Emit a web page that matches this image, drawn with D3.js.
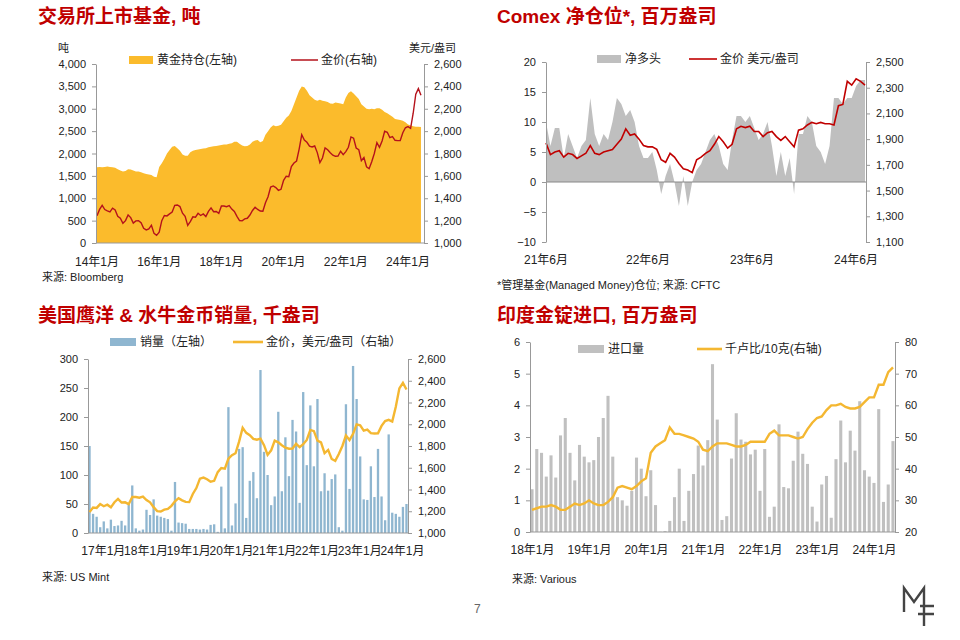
<!DOCTYPE html>
<html><head><meta charset="utf-8">
<script src="https://cdn.jsdelivr.net/npm/d3@7"></script>
<style>
body{margin:0;background:#fff;}
text{font-family:"Liberation Sans","Noto Sans CJK SC",sans-serif;fill:#222;}
.axis path,.axis line{stroke:#999;}
.axis text{font-size:11px;fill:#222;font-family:"Liberation Sans","Noto Sans CJK SC",sans-serif;}
</style></head><body>
<svg id="c" width="960" height="640"></svg>
<script>
// --- data ---
// panel 1: ETF holdings (t) and gold price (USD/oz), monthly 2014-01 .. 2024-06
var etfHoldings = [1690,1700,1690,1700,1710,1700,1690,1680,1650,1620,1600,1610,
  1650,1640,1620,1600,1600,1580,1560,1540,1530,1520,1480,1470,
  1700,1780,1880,2000,2080,2150,2170,2120,2060,1980,1950,1950,
  2030,2060,2080,2090,2100,2110,2120,2140,2150,2160,2170,2180,
  2190,2200,2200,2220,2230,2260,2260,2220,2180,2160,2170,2200,
  2260,2290,2300,2250,2280,2420,2500,2580,2630,2610,2620,2640,
  2720,2800,2850,2950,3100,3250,3400,3500,3480,3400,3300,3250,
  3200,3180,3200,3180,3170,3150,3120,3110,3140,3130,3120,3100,
  3250,3350,3390,3340,3280,3220,3100,3050,3000,2990,3000,2990,
  3010,3010,2980,2930,2900,2860,2820,2770,2760,2750,2730,2700,
  2650,2630,2610,2600,2600,2590];
var goldMonthly14 = [1244,1300,1336,1299,1288,1279,1311,1296,1239,1222,1176,1200,
  1251,1227,1178,1198,1199,1181,1131,1117,1125,1159,1086,1068,
  1097,1200,1246,1242,1260,1276,1337,1340,1326,1266,1238,1157,
  1192,1234,1231,1266,1246,1260,1236,1283,1314,1280,1282,1265,
  1331,1331,1325,1334,1303,1282,1238,1201,1198,1215,1221,1250,
  1291,1320,1300,1286,1284,1359,1413,1500,1510,1495,1471,1480,
  1560,1597,1592,1683,1715,1733,1840,1968,1921,1900,1866,1858,
  1867,1808,1718,1760,1850,1834,1807,1785,1775,1777,1820,1790,
  1817,1856,1948,1937,1849,1834,1735,1764,1681,1664,1726,1800,
  1897,1855,1912,1999,1990,1942,1951,1918,1915,1916,1985,2030,
  2040,2025,2160,2330,2380,2320];
var p1Ticks = ["14年1月","16年1月","18年1月","20年1月","22年1月","24年1月"];

// panel 2: COMEX managed money net long (Moz) and gold price, semi-monthly 2021-06 .. 2024-06
var netLong = [10,6,9,9,4,8,6,4,6,7,14,8,6,8,7,10,14,13,11,12,10,6,4,4,5,2,-2,1,3,0,-4,1,-4,0,2,3,5,7,
  8,6,3,2,7,11,11,10,11,9,7,8,10,6,1,5,1,4,-2,8,8,11,10,6,5,3,6,14,14,13,14,14,16,17,17];
var comexGold = [1870,1780,1800,1810,1760,1790,1780,1750,1770,1790,1850,1790,1780,1800,1810,1820,1860,1900,1980,1930,
  1940,1900,1850,1840,1840,1820,1740,1720,1790,1760,1710,1670,1660,1640,1740,1760,1790,1810,
  1860,1920,1880,1830,1860,1980,2000,1990,2000,1960,1960,1920,1950,1960,1920,1890,1920,1880,1840,1970,
  1980,2010,2030,2020,2030,2020,2020,2010,2160,2170,2350,2320,2370,2350,2320];
var p2Ticks = ["21年6月","22年6月","23年6月","24年6月"];

// panel 3: US Mint eagle & buffalo sales (koz), monthly 2017-01 .. 2024-06
var mintSales = [150,33,28,10,20,8,23,12,13,21,13,50,
  82,8,4,6,40,31,58,30,28,26,24,4,
  88,18,17,16,7,7,7,6,7,6,14,15,
  2,80,8,217,13,51,145,148,26,90,105,60,
  281,140,100,48,63,209,72,165,98,195,175,52,
  243,117,220,115,231,72,103,73,93,101,10,4,
  222,76,288,231,132,58,57,115,62,145,63,22,
  170,35,33,28,45,50];
var mintGold = goldMonthly14.slice(36);
var p3Ticks = ["17年1月","18年1月","19年1月","20年1月","21年1月","22年1月","23年1月","24年1月"];

// panel 4: India gold imports (Moz) and INR per 10g (thousand), monthly 2018-01 .. 2024-05
var indiaImports = [1.35,2.62,2.5,1.75,2.42,1.72,3.05,3.6,2.5,1.63,2.75,2.38,
  2.2,2.27,3.0,3.6,4.3,2.38,1.1,1.0,0.83,1.3,2.35,2.0,
  1.13,1.95,0.85,0.01,0.03,0.35,1.1,2.0,0.35,1.3,1.83,2.73,
  2.1,2.9,5.3,3.55,0.38,0.5,2.32,3.75,2.92,2.85,2.45,2.6,
  1.3,2.62,0.48,0.8,3.4,1.42,1.38,2.25,3.17,2.47,2.15,0.8,
  0.33,1.5,1.77,0.45,2.3,3.52,2.2,3.2,2.57,4.13,1.95,1.75,
  1.55,3.88,0.95,1.5,2.87];
var inrGold = [27,27.5,28,28,28.5,28,27,27,28,29,28.5,29,
  30,29,28.5,28.5,29.5,31,34,34.5,34,33.5,34.5,36,
  37,45,47,48,49,53,51,51,50.5,50,49.5,48.5,
  46,45.5,47,48,48,48,47.5,47,47,47.5,48.5,48.5,
  48.5,48.5,51,52,50.5,50.5,50.5,50,49.5,50,52.5,54.5,
  56,56.5,58.5,60,60,60.5,59.5,59,59,59.5,61,62.5,
  62.5,66.5,66.5,70.5,72];
var p4Ticks = ["18年1月","19年1月","20年1月","21年1月","22年1月","23年1月","24年1月"];

var svg = d3.select("#c");
var fmt = d3.format(",");
var RED = "#c00000";

function title(x, y, t) {
  svg.append("text").attr("x", x).attr("y", y).text(t)
    .style("font-size", "19px").style("font-weight", "bold").style("fill", RED);
}
function note(x, y, t) {
  svg.append("text").attr("x", x).attr("y", y).text(t).style("font-size", "11px");
}
function yAxis(scale, x, right, ticks, f) {
  var ax = (right ? d3.axisRight(scale) : d3.axisLeft(scale)).tickValues(ticks).tickFormat(f || fmt).tickSize(4).tickSizeOuter(0);
  var g = svg.append("g").attr("class", "axis").attr("transform", "translate(" + x + ",0)").call(ax);
  g.selectAll("text").attr("dx", right ? 3 : -3);
}
function xLabels(labels, xs, y) {
  labels.forEach(function(l, i) {
    svg.append("text").attr("x", xs[i]).attr("y", y).attr("text-anchor", "middle").text(l).style("font-size", "12px");
  });
}
function swatchRect(x, y, w, col, t) {
  svg.append("rect").attr("x", x).attr("y", y - 4).attr("width", w).attr("height", 8).attr("fill", col);
  svg.append("text").attr("x", x + w + 4).attr("y", y + 4).text(t).style("font-size", "12px");
}
function swatchLine(x, y, w, col, sw, t) {
  svg.append("line").attr("x1", x).attr("x2", x + w).attr("y1", y).attr("y2", y).attr("stroke", col).attr("stroke-width", sw);
  svg.append("text").attr("x", x + w + 3).attr("y", y + 4).text(t).style("font-size", "12px");
}

// ---------- panel 1 ----------
title(38, 23, "交易所上市基金, 吨");
var x1 = d3.scaleLinear().domain([0, 120]).range([97, 408]);
var y1 = d3.scaleLinear().domain([0, 4000]).range([243, 64]);
var y1r = d3.scaleLinear().domain([1000, 2600]).range([243, 64]);
svg.append("path").datum(etfHoldings).attr("fill", "#fbbb2c")
  .attr("d", d3.area().x(function(d, i) { return x1(i); }).y0(y1(0)).y1(function(d) { return y1(d); }));
svg.append("path").datum(goldMonthly14).attr("fill", "none").attr("stroke", "#b5121b").attr("stroke-width", 1.4)
  .attr("d", d3.line().x(function(d, i) { return x1(i); }).y(function(d) { return y1r(d); }));
yAxis(y1, 96, false, d3.range(0, 4001, 500));
yAxis(y1r, 424, true, d3.range(1000, 2601, 200));
svg.append("line").attr("x1", 96).attr("x2", 424).attr("y1", 243).attr("y2", 243).attr("stroke", "#999");
xLabels(p1Ticks, [0, 24, 48, 72, 96, 120].map(x1), 266);
svg.append("text").attr("x", 58).attr("y", 52).text("吨").style("font-size", "11px");
svg.append("text").attr("x", 409).attr("y", 52).text("美元/盎司").style("font-size", "11px");
swatchRect(129, 60, 24, "#fbbb2c", "黄金持仓(左轴)");
swatchLine(291, 60, 27, "#b5121b", 1.5, "金价(右轴)");
note(42, 281, "来源: Bloomberg");

// ---------- panel 2 ----------
title(497, 23, "Comex 净仓位*, 百万盎司");
var x2 = d3.scaleLinear().domain([0, 72]).range([546, 865]);
var y2 = d3.scaleLinear().domain([-10, 20]).range([242, 62]);
var y2r = d3.scaleLinear().domain([1100, 2500]).range([242, 62]);
svg.append("path").datum(netLong).attr("fill", "#bfbfbf")
  .attr("d", d3.area().x(function(d, i) { return x2(i); }).y0(y2(0)).y1(function(d) { return y2(d); }));
svg.append("line").attr("x1", 546).attr("x2", 866).attr("y1", y2(0)).attr("y2", y2(0)).attr("stroke", "#888");
svg.append("path").datum(comexGold).attr("fill", "none").attr("stroke", RED).attr("stroke-width", 1.6)
  .attr("d", d3.line().x(function(d, i) { return x2(i); }).y(function(d) { return y2r(d); }));
yAxis(y2, 546, false, d3.range(-10, 21, 5));
yAxis(y2r, 866, true, d3.range(1100, 2501, 200));
xLabels(p2Ticks, [546, 648, 752, 856], 264);
swatchRect(597, 59, 24, "#bfbfbf", "净多头");
swatchLine(689, 59, 28, RED, 1.6, "金价 美元/盎司");
note(497, 289, "*管理基金(Managed Money)仓位;    来源: CFTC");

// ---------- panel 3 ----------
title(38, 322, "美国鹰洋 & 水牛金币销量, 千盎司");
var x3 = d3.scaleBand().domain(d3.range(mintSales.length)).range([88, 408]).paddingInner(0.35).paddingOuter(0.1);
var y3 = d3.scaleLinear().domain([0, 300]).range([533, 359]);
var y3r = d3.scaleLinear().domain([1000, 2600]).range([533, 359]);
svg.append("g").selectAll("rect").data(mintSales).enter().append("rect")
  .attr("x", function(d, i) { return x3(i); }).attr("width", x3.bandwidth())
  .attr("y", function(d) { return y3(d); }).attr("height", function(d) { return y3(0) - y3(d); })
  .attr("fill", "#8fb6d0");
svg.append("path").datum(mintGold).attr("fill", "none").attr("stroke", "#f4b731").attr("stroke-width", 2.4)
  .attr("d", d3.line().x(function(d, i) { return x3(i) + x3.bandwidth() / 2; }).y(function(d) { return y3r(d); }));
yAxis(y3, 88, false, d3.range(0, 301, 50));
yAxis(y3r, 408, true, d3.range(1000, 2601, 200));
svg.append("line").attr("x1", 88).attr("x2", 408).attr("y1", 533).attr("y2", 533).attr("stroke", "#999");
xLabels(p3Ticks, d3.range(8).map(function(k) { return x3(k * 12) + 15; }), 555);
swatchRect(110, 342, 26, "#8fb6d0", "销量（左轴）");
swatchLine(233, 342, 30, "#f4b731", 2.6, "金价，美元/盎司（右轴）");
note(42, 581, "来源: US Mint");

// ---------- panel 4 ----------
title(497, 322, "印度金锭进口, 百万盎司");
var x4 = d3.scaleBand().domain(d3.range(indiaImports.length)).range([530, 895]).paddingInner(0.35).paddingOuter(0.1);
var y4 = d3.scaleLinear().domain([0, 6]).range([532, 342]);
var y4r = d3.scaleLinear().domain([20, 80]).range([532, 342]);
svg.append("g").selectAll("rect").data(indiaImports).enter().append("rect")
  .attr("x", function(d, i) { return x4(i); }).attr("width", x4.bandwidth())
  .attr("y", function(d) { return y4(d); }).attr("height", function(d) { return y4(0) - y4(d); })
  .attr("fill", "#c0c0c0");
svg.append("path").datum(inrGold).attr("fill", "none").attr("stroke", "#f4b731").attr("stroke-width", 2.4)
  .attr("d", d3.line().x(function(d, i) { return x4(i) + x4.bandwidth() / 2; }).y(function(d) { return y4r(d); }));
yAxis(y4, 530, false, d3.range(0, 7, 1));
yAxis(y4r, 895, true, d3.range(20, 81, 10));
svg.append("line").attr("x1", 530).attr("x2", 895).attr("y1", 532).attr("y2", 532).attr("stroke", "#999");
xLabels(p4Ticks, d3.range(7).map(function(k) { return x4(k * 12) + 2; }), 554);
swatchRect(578, 349, 26, "#c0c0c0", "进口量");
swatchLine(697, 349, 25, "#f4b731", 2.6, "千卢比/10克(右轴)");
note(512, 583, "来源: Various");

// page number + logo mark
svg.append("text").attr("x", 474).attr("y", 613).text("7").style("font-size", "12px").style("fill", "#666");
svg.append("path").attr("d", "M904,612 L904,588 L914,602 L924,588 L924,626 M920,606 L934,606 M918,614 L934,614")
  .attr("fill", "none").attr("stroke", "#444").attr("stroke-width", 2.4);
</script>
</body></html>
